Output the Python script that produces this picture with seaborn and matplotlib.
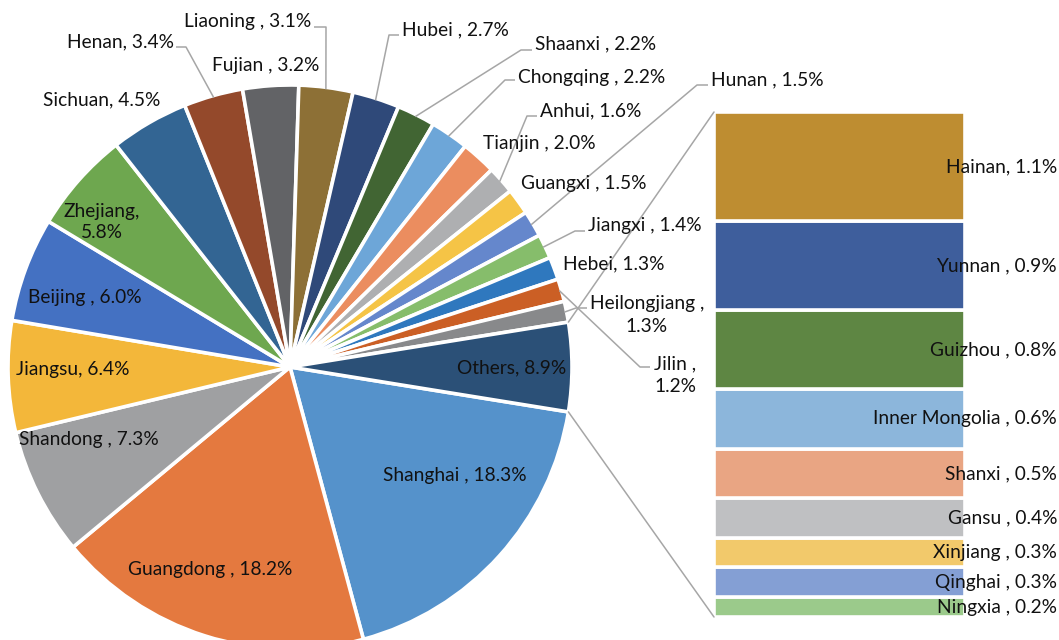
import numpy as np
import matplotlib
matplotlib.use("Agg")
import matplotlib.pyplot as plt
import seaborn as sns

# ---------------- data ----------------
pie_names = ["Shanghai", "Guangdong", "Shandong", "Jiangsu", "Beijing", "Zhejiang",
             "Sichuan", "Henan", "Fujian", "Liaoning", "Hubei", "Shaanxi", "Chongqing",
             "Tianjin", "Anhui", "Guangxi", "Hunan", "Jiangxi", "Hebei", "Heilongjiang",
             "Jilin"]
pie_values = [18.3, 18.2, 7.3, 6.4, 6.0, 5.8, 4.5, 3.4, 3.2, 3.1, 2.7, 2.2, 2.2,
              2.0, 1.6, 1.5, 1.5, 1.4, 1.3, 1.3, 1.2]
pie_labels = ["Shanghai , 18.3%", "Guangdong , 18.2%", "Shandong , 7.3%", "Jiangsu, 6.4%",
              "Beijing , 6.0%", "Zhejiang,\n5.8%", "Sichuan, 4.5%", "Henan, 3.4%",
              "Fujian , 3.2%", "Liaoning , 3.1%", "Hubei , 2.7%", "Shaanxi , 2.2%",
              "Chongqing , 2.2%", "Tianjin , 2.0%", "Anhui, 1.6%", "Guangxi , 1.5%",
              "Hunan , 1.5%", "Jiangxi , 1.4%", "Hebei, 1.3%", "Heilongjiang ,\n1.3%",
              "Jilin ,\n1.2%"]
others_label = "Others, 8.9%"

bar_names = ["Hainan", "Yunnan", "Guizhou", "Inner Mongolia", "Shanxi", "Gansu",
             "Xinjiang", "Qinghai", "Ningxia"]
bar_values = [1.1, 0.9, 0.8, 0.6, 0.5, 0.4, 0.3, 0.3, 0.2]
bar_labels = ["Hainan, 1.1%", "Yunnan , 0.9%", "Guizhou , 0.8%", "Inner Mongolia , 0.6%",
              "Shanxi , 0.5%", "Gansu , 0.4%", "Xinjiang , 0.3%", "Qinghai , 0.3%",
              "Ningxia , 0.2%"]

pie_colors = ["#5592CB", "#E4793F", "#9FA0A2", "#F3B73A", "#4471C2", "#6EA74F",
              "#336593", "#94492B", "#626366", "#8D7036", "#2F4979", "#416533",
              "#6DA6D8", "#EB8D5F", "#AEAFB1", "#F5C446", "#6587CC", "#86BD6B",
              "#2F78BE", "#CB5F25", "#88898B"]
others_color = "#2B5077"
bar_colors = ["#BE8D31", "#3E5E9C", "#5E8643", "#8CB6DB", "#E9A583", "#BFC0C2",
              "#F2C96B", "#849FD4", "#9BCA8B"]

# ---------------- style ----------------
sns.set_theme(style="white")
plt.rcParams["font.family"] = ["Lato", "DejaVu Sans"]
FS = 13.8
TXT = "#111111"
LEAD = "#A6A6A6"

W, H = 1059, 640
fig = plt.figure(figsize=(W / 100, H / 100), dpi=100)
ax = fig.add_axes([0, 0, 1, 1])

def Y(y):
    return H - y

cx, cy, R = 290, Y(367), 282

others_val = sum(bar_values)
values = pie_values + [others_val]
colors = pie_colors + [others_color]
total = sum(values)
others_ang = others_val / total * 360.0
start = -others_ang / 2.0

ax.pie(values, colors=colors, startangle=start, counterclock=False,
       center=(cx, cy), radius=R,
       wedgeprops=dict(edgecolor="white", linewidth=2.6))

# angular extents of each wedge (clockwise from start)
cum = np.cumsum([0] + values) / total * 360.0
theta1 = start - cum[:-1]
theta2 = start - cum[1:]
mid = (theta1 + theta2) / 2.0

def edge_pt(angle_deg, r=R):
    a = np.deg2rad(angle_deg)
    return cx + r * np.cos(a), cy + r * np.sin(a)

# ---------- inside labels ----------
inside = {
    "Shanghai": (455, 475), "Guangdong": (210, 569), "Shandong": (89, 440),
    "Jiangsu": (73, 370), "Beijing": (85, 298), "Zhejiang": (102, 222),
}
for name, (x, y) in inside.items():
    i = pie_names.index(name)
    ax.text(x, Y(y), pie_labels[i], ha="center", va="center", fontsize=FS,
            color=TXT, linespacing=1.35)
ax.text(566, Y(368), others_label, ha="right", va="center", fontsize=FS, color=TXT)

# ---------- outside labels ----------
# name: (text x, text y, ha, leader elbow points or None, target slice)
outside = {
    "Sichuan": (43, 100, "left", None, None),
    "Henan": (67, 42, "left", [(176, 47), (186, 47)], "Henan"),
    "Fujian": (212, 65, "left", None, None),
    "Liaoning": (184, 22, "left", [(314, 27), (326, 27)], "Liaoning"),
    "Hubei": (402, 30, "left", [(399, 35), (389, 35)], "Hubei"),
    "Shaanxi": (535, 44, "left", [(532, 50), (521, 50)], "Shaanxi"),
    "Chongqing": (518, 77, "left", [(515, 80), (505, 80)], "Chongqing"),
    "Anhui": (540, 111, "left", [(537, 116), (527, 116)], "Anhui"),
    "Tianjin": (483, 143, "left", None, None),
    "Guangxi": (521, 184, "left", None, None),
    "Hunan": (711, 80, "left", [(708, 85), (697, 85)], "Hunan"),
    "Jiangxi": (588, 225, "left", [(585, 231), (575, 231)], "Jiangxi"),
    "Hebei": (563, 264, "left", None, None),
    "Heilongjiang": (647, 315, "center", [(587, 308), (576, 308)], "Jilin"),
    "Jilin": (675, 375, "center", [(650, 367), (640, 367)], "Heilongjiang"),
}
for name, (x, y, ha, elbow, target) in outside.items():
    i = pie_names.index(name)
    ax.text(x, Y(y), pie_labels[i], ha=ha, va="center", fontsize=FS, color=TXT,
            linespacing=1.4, multialignment="center")
    if elbow is not None:
        j = pie_names.index(target)
        ex, ey = edge_pt(mid[j], R - 2)
        xs = [p[0] for p in elbow] + [ex]
        ys = [Y(p[1]) for p in elbow] + [ey]
        ax.plot(xs, ys, color=LEAD, lw=1.1, solid_capstyle="butt")

# ---------- stacked bar of "Others" ----------
bx0, bx1 = 714, 965
btop, bbot = 112, 617
scale = (bbot - btop) / others_val
bx = (bx0 + bx1) / 2.0
bottom = Y(bbot)
for v, c, lab in zip(bar_values[::-1], bar_colors[::-1], bar_labels[::-1]):
    h = v * scale
    ax.bar(bx, h, width=bx1 - bx0, bottom=bottom, color=c, edgecolor="white",
           linewidth=2.6)
    ax.text(1057, bottom + h / 2.0, lab, ha="right", va="center", fontsize=FS,
            color=TXT)
    bottom += h

# connector lines
tx, ty = edge_pt(theta1[-1], R)
sx, sy = edge_pt(theta2[-1], R)
ax.plot([tx, bx0], [ty, Y(btop)], color=LEAD, lw=1.1)
ax.plot([sx, bx0], [sy, Y(bbot)], color=LEAD, lw=1.1)

ax.set_xlim(0, W)
ax.set_ylim(0, H)
ax.set_aspect("auto")
ax.axis("off")
fig.savefig("out.png", dpi=100, facecolor="white")
